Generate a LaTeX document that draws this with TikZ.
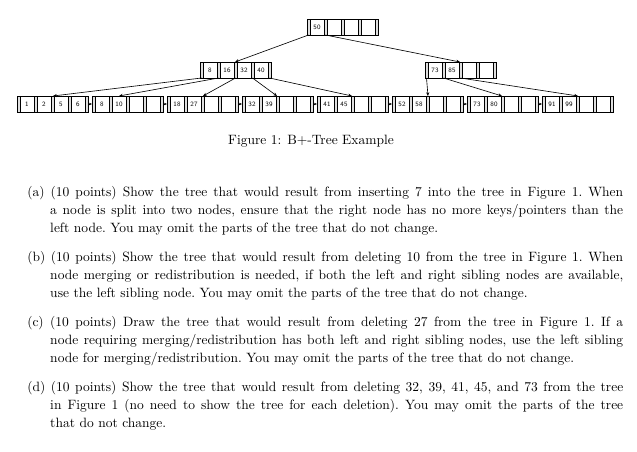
\documentclass[tikz,border=0pt]{standalone}
\usetikzlibrary{arrows.meta}
\newcommand{\bnode}[4]{% name, x0, y0, keys
  \draw[line width=0.5pt,fill=white] (#2,#3) rectangle ++(71,16);
  \foreach \k [count=\i from 0] in {#4} {
    \pgfmathsetmacro{\bx}{#2+\i*17}
    \draw[line width=0.4pt,fill=gray!25] (\bx,#3) rectangle ++(3,16);
    \node[celltext] (#1-c\i) at (\bx+10,#3+8) {\k};
    \coordinate (#1-p\i) at (\bx+1.5,#3+16);
  }
  \draw[line width=0.4pt,fill=gray!25] (#2+68,#3) rectangle ++(3,16);
  \coordinate (#1-p4) at (#2+69.5,#3+16);
  \coordinate (#1-L) at (#2,#3+8);
  \coordinate (#1-R) at (#2+71,#3+8);
}
\newcommand{\qitem}{\noindent\hangindent=18.4pt\hangafter=1 }
\begin{document}
\begin{tikzpicture}[x=0.8pt,y=-0.8pt,
  celltext/.style={font=\sffamily\fontsize{5.3}{6}\selectfont,inner sep=0pt},
  ptr/.style={-{Stealth[length=3pt,width=2.5pt]},line width=0.5pt},
  sib/.style={-{Stealth[length=2.5pt,width=2pt]},line width=0.5pt}]
\useasboundingbox (0,0) rectangle (637,452);
\bnode{root}{307}{19}{50,,,}
\bnode{ia}{200}{62}{8,16,32,40}
\bnode{ib}{425}{62}{73,85,,}
\bnode{l1}{17}{96}{1,2,5,6}
\bnode{l2}{92}{96}{8,10,,}
\bnode{l3}{167}{96}{18,27,,}
\bnode{l4}{242}{96}{32,39,,}
\bnode{l5}{317}{96}{41,45,,}
\bnode{l6}{392}{96}{52,58,,}
\bnode{l7}{467}{96}{73,80,,}
\bnode{l8}{542}{96}{91,99,,}
\coordinate (ia-t) at (235,62);
\coordinate (ib-t) at (460,62);
\draw[ptr] (root-p0) -- (ia-t);
\draw[ptr] (root-p1) -- (ib-t);
\coordinate (l1-t) at (53,96);
\coordinate (l2-t) at (119,96);
\coordinate (l3-t) at (203,96);
\coordinate (l4-t) at (277,96);
\coordinate (l5-t) at (352,96);
\coordinate (l6-t) at (428,96);
\coordinate (l7-t) at (502,96);
\coordinate (l8-t) at (578,96);
\draw[ptr] (ia-p0) -- (l1-t);
\draw[ptr] (ia-p1) -- (l2-t);
\draw[ptr] (ia-p2) -- (l3-t);
\draw[ptr] (ia-p3) -- (l4-t);
\draw[ptr] (ia-p4) -- (l5-t);
\draw[ptr] (ib-p0) -- (l6-t);
\draw[ptr] (ib-p1) -- (l7-t);
\draw[ptr] (ib-p2) -- (l8-t);
\foreach \a/\b in {l1/l2,l2/l3,l3/l4,l4/l5,l5/l6,l6/l7,l7/l8}
  \draw[sib] (\a-R) -- (\b-L);
\node[font=\fontsize{10.8}{12}\selectfont] (cap) at (311,141) {Figure 1: B+-Tree Example};
\node[anchor=north west,inner sep=0pt,text width=476.8pt,align=justify,
  font=\fontsize{10.8}{14.4}\selectfont] (txt) at (27,186) {%
\frenchspacing
\qitem(a) (10 points) Show the tree that would result from inserting 7 into the tree in Figure 1. When\linebreak
a node is split into two nodes, ensure that the right node has no more keys/pointers than the\linebreak
left node. You may omit the parts of the tree that do not change.\par\vspace{8.8pt}
\qitem(b) (10 points) Show the tree that would result from deleting 10 from the tree in Figure 1. When\linebreak
node merging or redistribution is needed, if both the left and right sibling nodes are available,\linebreak
use the left sibling node. You may omit the parts of the tree that do not change.\par\vspace{8.8pt}
\qitem(c) (10 points) Draw the tree that would result from deleting 27 from the tree in Figure 1. If a\linebreak
node requiring merging/redistribution has both left and right sibling nodes, use the left sibling\linebreak
node for merging/redistribution. You may omit the parts of the tree that do not change.\par\vspace{8.8pt}
\qitem(d) (10 points) Show the tree that would result from deleting 32, 39, 41, 45, and 73 from the tree\linebreak
in Figure 1 (no need to show the tree for each deletion). You may omit the parts of the tree\linebreak
that do not change.\par};
\end{tikzpicture}
\end{document}
